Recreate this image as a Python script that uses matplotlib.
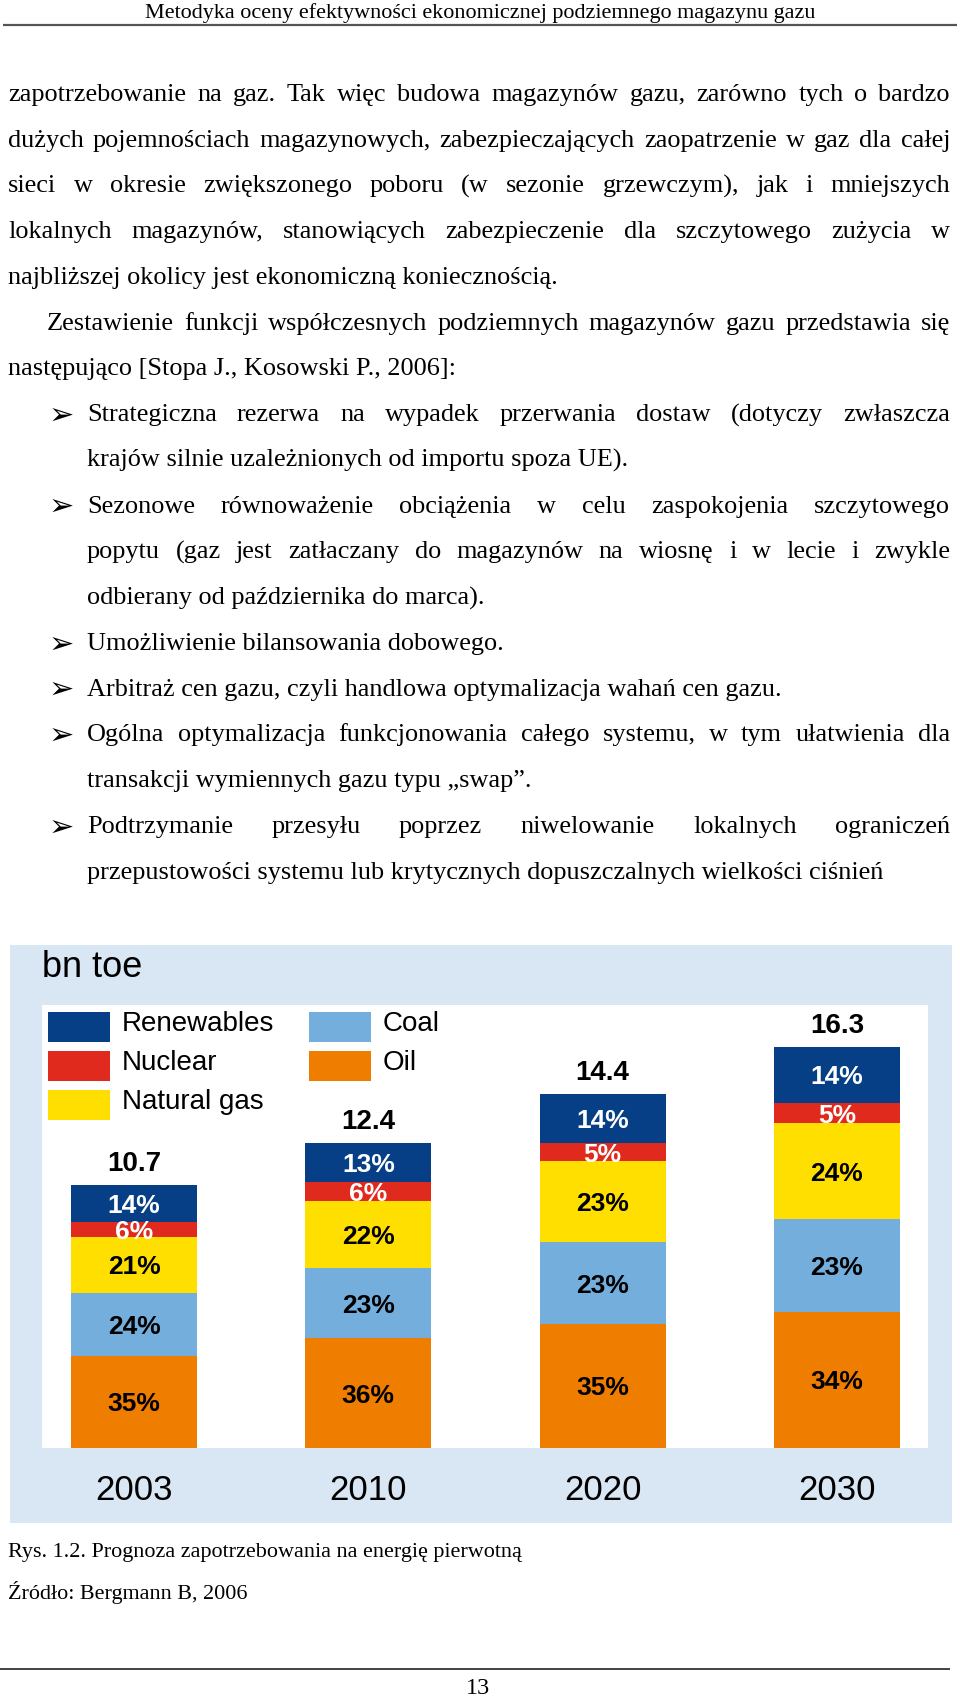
import matplotlib
matplotlib.use("Agg")
import matplotlib.pyplot as plt
from matplotlib import font_manager
from matplotlib.patches import Rectangle

W, H = 960, 1698

# chart data: primary energy demand forecast, bn toe
years = ["2003", "2010", "2020", "2030"]
totals = [10.7, 12.4, 14.4, 16.3]
oil = [35, 36, 35, 34]
coal = [24, 23, 23, 23]
natural_gas = [21, 22, 23, 24]
nuclear = [6, 6, 5, 5]
renewables = [14, 13, 14, 14]

# page text
header = "Metodyka oceny efektywności ekonomicznej podziemnego magazynu gazu"
body_lines = [
    "zapotrzebowanie na gaz. Tak więc budowa magazynów gazu, zarówno tych o bardzo",
    "dużych pojemnościach magazynowych, zabezpieczających zaopatrzenie w gaz dla całej",
    "sieci w okresie zwiększonego poboru (w sezonie grzewczym), jak i mniejszych",
    "lokalnych magazynów, stanowiących zabezpieczenie dla szczytowego zużycia w",
    "najbliższej okolicy jest ekonomiczną koniecznością.",
    "Zestawienie funkcji współczesnych podziemnych magazynów gazu przedstawia się",
    "następująco [Stopa J., Kosowski P., 2006]:",
    "Strategiczna rezerwa na wypadek przerwania dostaw (dotyczy zwłaszcza",
    "krajów silnie uzależnionych od importu spoza UE).",
    "Sezonowe równoważenie obciążenia w celu zaspokojenia szczytowego",
    "popytu (gaz jest zatłaczany do magazynów na wiosnę i w lecie i zwykle",
    "odbierany od października do marca).",
    "Umożliwienie bilansowania dobowego.",
    "Arbitraż cen gazu, czyli handlowa optymalizacja wahań cen gazu.",
    "Ogólna optymalizacja funkcjonowania całego systemu, w tym ułatwienia dla",
    "transakcji wymiennych gazu typu „swap”.",
    "Podtrzymanie przesyłu poprzez niwelowanie lokalnych ograniczeń",
    "przepustowości systemu lub krytycznych dopuszczalnych wielkości ciśnień",
]
# layout per line: left x, justified, bullet
line_x = [8, 8, 8, 8, 8, 47, 8, 87, 87, 87, 87, 87, 87, 87, 87, 87, 87, 87]
line_just = [1, 1, 1, 1, 0, 1, 0, 1, 0, 1, 1, 0, 0, 0, 1, 0, 1, 0]
line_bullet = [0, 0, 0, 0, 0, 0, 0, 1, 0, 1, 0, 0, 1, 1, 1, 0, 1, 0]
FIRST_Y, LEADING = 95, 45.75
caption = "Rys. 1.2. Prognoza zapotrzebowania na energię pierwotną"
source = "Źródło: Bergmann B, 2006"
page_no = "13"

installed = {f.name for f in font_manager.fontManager.ttflist}
SERIF = "Liberation Serif"
SANS = "Liberation Sans"
NARROW = "Liberation Sans Narrow" if "Liberation Sans Narrow" in installed else SANS

PANEL = "#d9e6f3"
colors = {
    "Renewables": "#063f86",
    "Nuclear": "#df2a1d",
    "Natural gas": "#ffdf00",
    "Coal": "#74aedc",
    "Oil": "#ee7d00",
}

fig = plt.figure(figsize=(W / 100, H / 100), dpi=100)
renderer = fig.canvas.get_renderer()

page = fig.add_axes([0, 0, 1, 1])
page.set_xlim(0, W)
page.set_ylim(H, 0)
page.axis("off")


def width_of(s, size, **kw):
    t = page.text(0, 0, s, fontsize=size, **kw)
    w = t.get_window_extent(renderer).width
    t.remove()
    return w


def fit(s, target, **kw):
    return 20 * target / width_of(s, 20, **kw)


# header
fs_head = fit(header, 668, family=SERIF)
page.text(480, 13, header, ha="center", va="center", family=SERIF, fontsize=fs_head)
page.plot([3, 957], [25, 25], color="#555555", lw=1.6, solid_capstyle="butt")

# body text
fs = fit(body_lines[-1], 795, family=SERIF)
em = fs * 100 / 72
RIGHT = 950
for i, (text, x0, just, bul) in enumerate(zip(body_lines, line_x, line_just, line_bullet)):
    yc = FIRST_Y + LEADING * i
    yb = yc + 0.224 * em
    if bul:
        page.text(49, yc, "➢", family=["DejaVu Sans"], fontsize=fs * 1.15,
                  ha="left", va="center")
    if not just:
        page.text(x0, yb, text, family=SERIF, fontsize=fs, va="baseline")
        continue
    words = text.split(" ")
    arts = [page.text(0, yb, w, family=SERIF, fontsize=fs, va="baseline") for w in words]
    widths = [a.get_window_extent(renderer).width for a in arts]
    gap = (RIGHT - x0 - sum(widths)) / (len(words) - 1)
    x = x0
    for a, w in zip(arts, widths):
        a.set_x(x)
        x += w + gap

# chart panel
page.add_patch(Rectangle((10, 945), 942, 578, facecolor=PANEL, lw=0, zorder=0))
page.text(42, 967, "bn toe", ha="left", va="center", family=SANS, fontsize=26)

ax = fig.add_axes([42 / W, (H - 1448) / H, 886 / W, 443 / H])
ax.set_facecolor("white")
x = list(range(len(years)))
stack = [
    ("Oil", oil, "black"),
    ("Coal", coal, "black"),
    ("Natural gas", natural_gas, "black"),
    ("Nuclear", nuclear, "white"),
    ("Renewables", renewables, "white"),
]
bottom = [0.0] * len(years)
for name, shares, tc in stack:
    vals = [t * s / 100 for t, s in zip(totals, shares)]
    ax.bar(x, vals, bottom=bottom, width=0.538, color=colors[name], lw=0)
    for xi, b, v, s in zip(x, bottom, vals, shares):
        ax.text(xi, b + v / 2, f"{s}%", ha="center", va="center_baseline",
                color=tc, fontsize=19, fontweight="bold", family=SANS)
    bottom = [b + v for b, v in zip(bottom, vals)]

for xi, t in zip(x, totals):
    ax.annotate(f"{t}", (xi, t), xytext=(0, 17.3), textcoords="offset points",
                ha="center", va="center_baseline", fontsize=20,
                fontweight="bold", family=SANS)

ax.set_xlim(-0.393, 3.389)
ax.set_ylim(0, 18.0)
ax.set_yticks([])
ax.set_xticks(x, years)
ax.tick_params(axis="x", length=0, pad=28, labelsize=25)
for lab in ax.get_xticklabels():
    lab.set_family(NARROW)
    lab.set_verticalalignment("center_baseline")
for sp in ax.spines.values():
    sp.set_visible(False)

# legend drawn on a transparent overlay in page pixels
over = fig.add_axes([0, 0, 1, 1], zorder=5)
over.set_xlim(0, W)
over.set_ylim(H, 0)
over.axis("off")
legend_items = ["Renewables", "Nuclear", "Natural gas", "Coal", "Oil"]
leg_pos = [(48, 1012), (48, 1051), (48, 1090), (309, 1012), (309, 1051)]
for name, (lx, ly) in zip(legend_items, leg_pos):
    over.add_patch(Rectangle((lx, ly), 62, 30, facecolor=colors[name], lw=0))
    over.text(lx + 74, ly + 12, name, ha="left", va="center", family=SANS, fontsize=20)

# caption and footer
fs_cap = fit(caption, 512, family=SERIF)
page.text(8, 1553, caption, ha="left", va="center", family=SERIF, fontsize=fs_cap)
page.text(8, 1592, source, ha="left", va="center", family=SERIF, fontsize=fs_cap)
page.plot([0, 950], [1669, 1669], color="#222222", lw=1.2, solid_capstyle="butt")
page.text(478, 1688, page_no, ha="center", va="center", family=SERIF, fontsize=fs_cap * 1.1)

fig.savefig("out.png", dpi=100)
